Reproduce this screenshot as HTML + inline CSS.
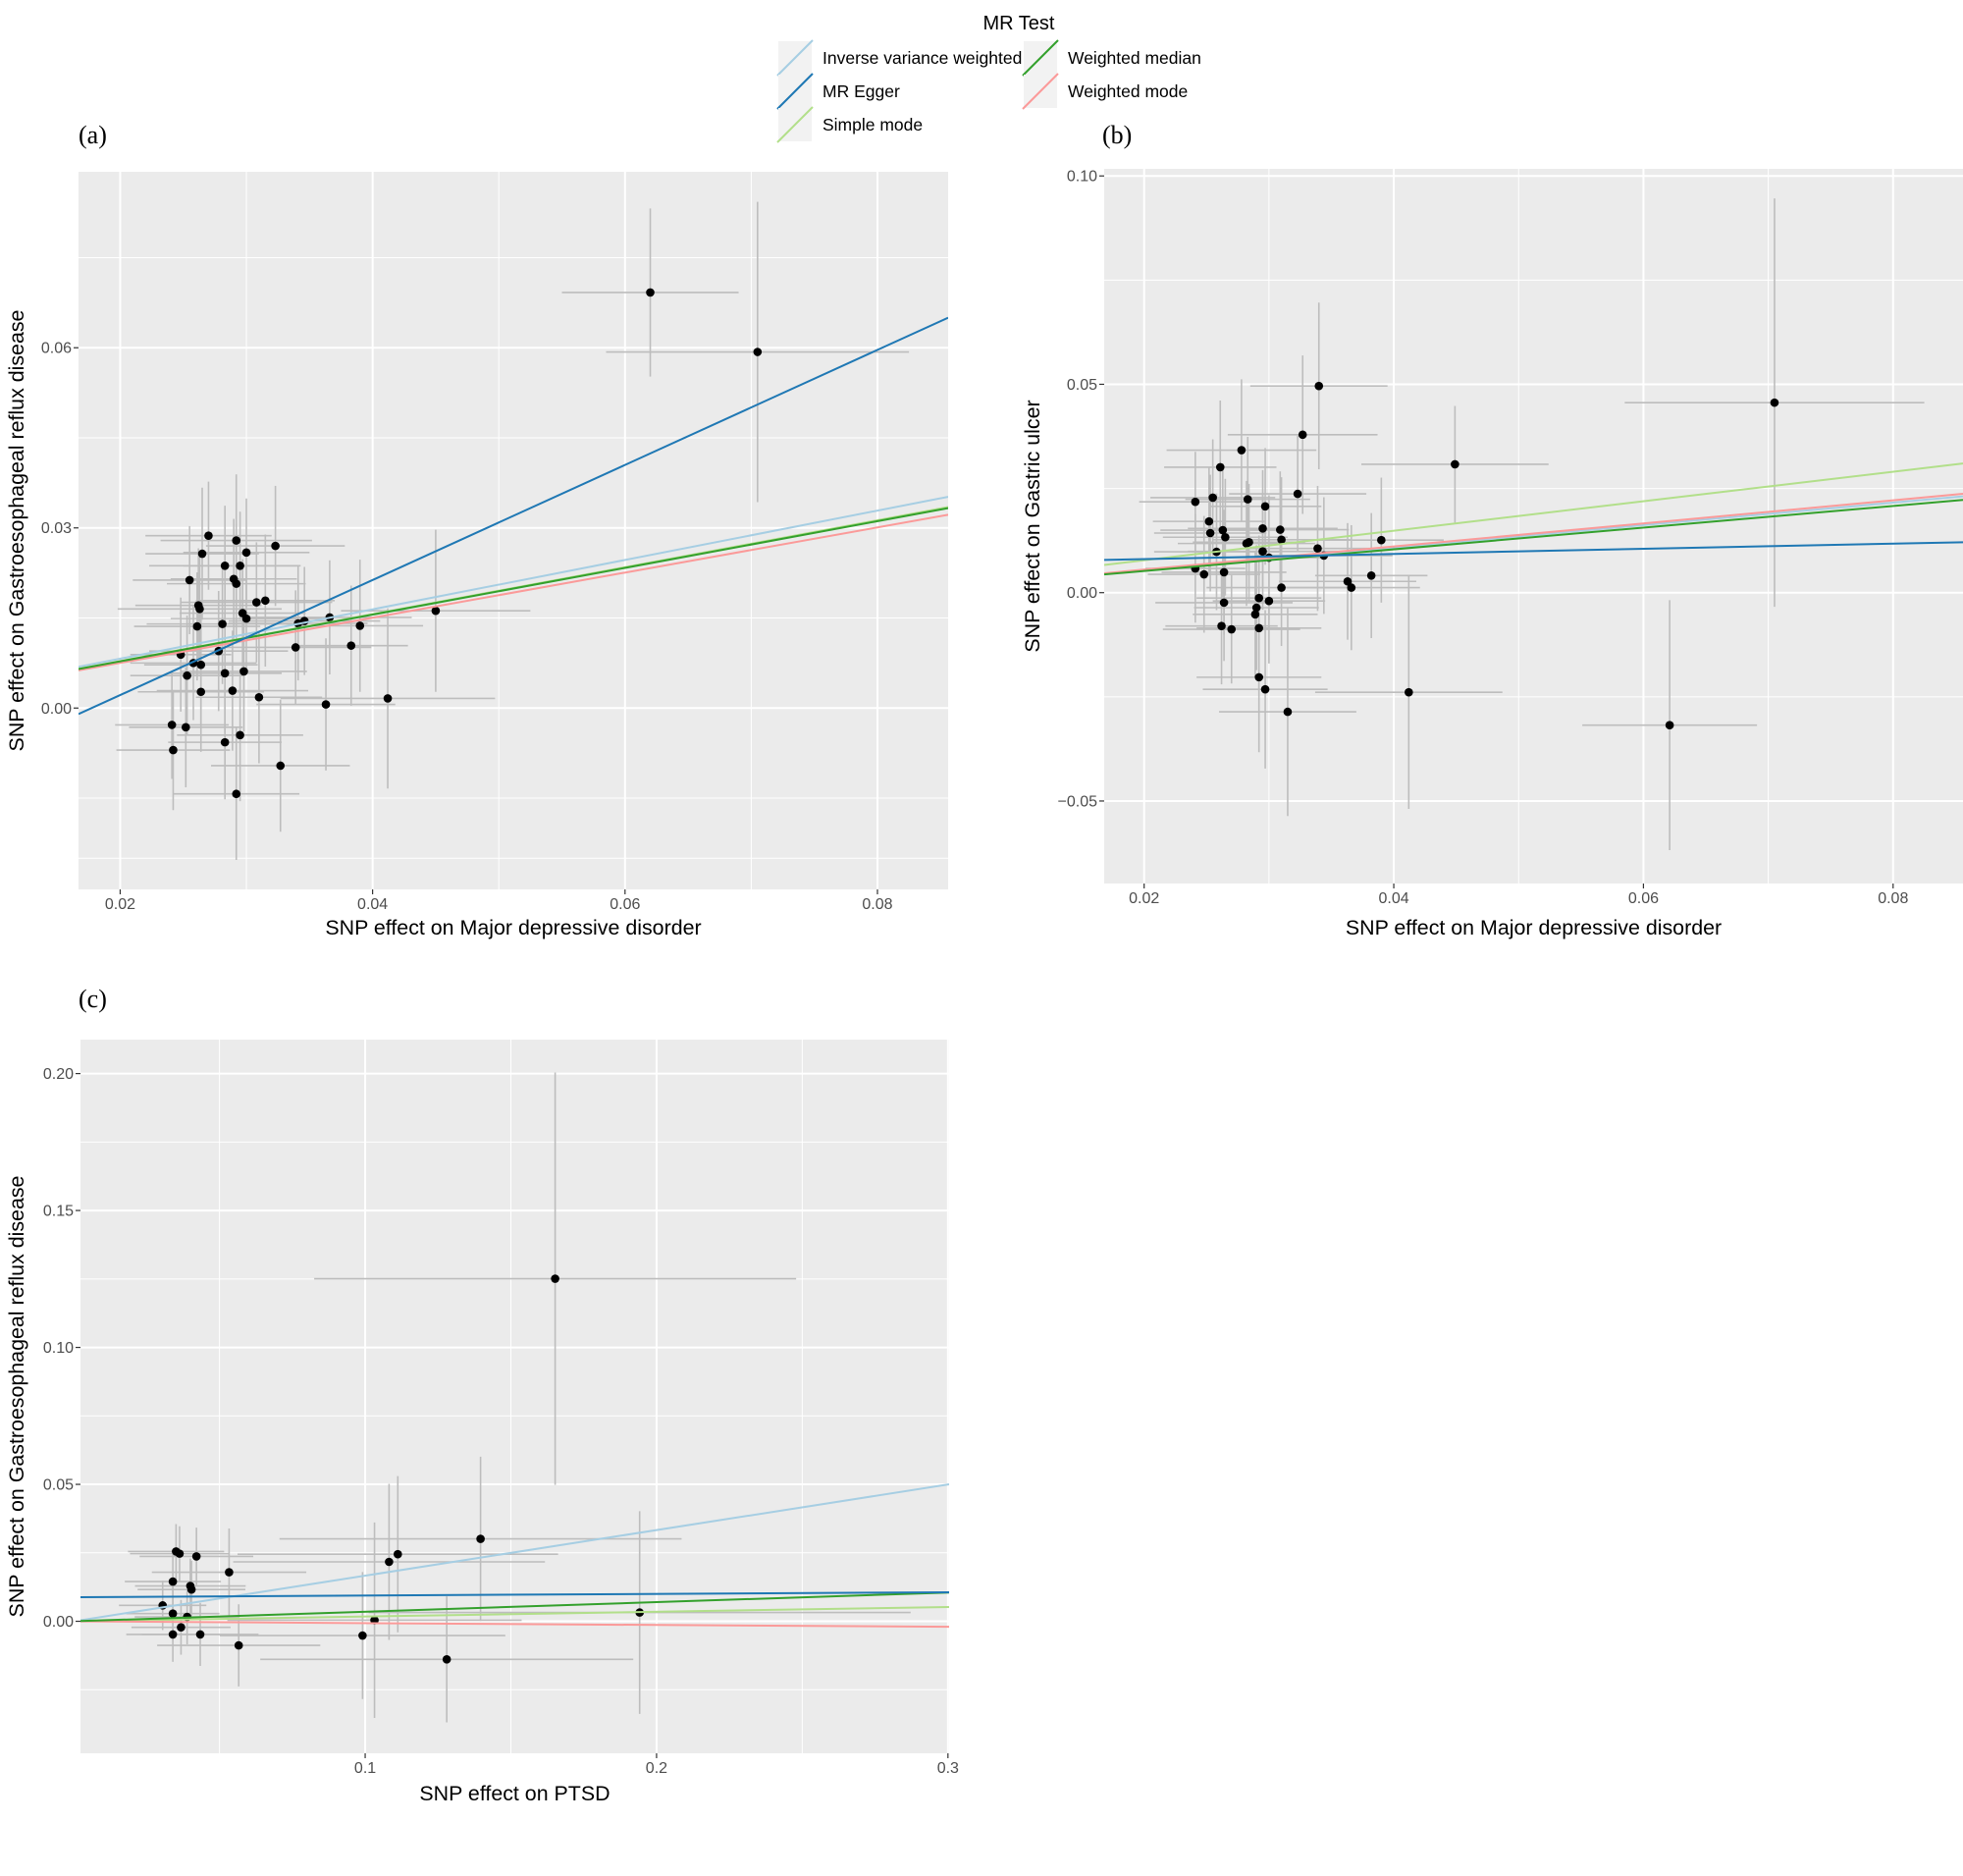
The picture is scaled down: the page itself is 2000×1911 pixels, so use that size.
<!DOCTYPE html>
<html><head><meta charset="utf-8"><style>
html,body{margin:0;padding:0;background:#fff;}
svg{display:block;font-family:"Liberation Sans",sans-serif;}
</style></head><body>
<svg id="fig" width="2000" height="1911" viewBox="0 0 2000 1911" xmlns="http://www.w3.org/2000/svg">
<g id="legend">
<text x="1038" y="30" font-size="20" text-anchor="middle" fill="#000">MR Test</text>
</g>
<g id="panels"></g>
</svg>
<script>
// ---- Panel (a) data: MDD -> GERD ----
const aX = [0.0620,0.0705,0.0270,0.0292,0.0323,0.0265,0.0300,0.0283,0.0295,0.0255,0.0290,0.0292,0.0308,0.0315,0.0262,0.0263,0.0297,0.0300,0.0366,0.0346,0.0341,0.0450,0.0281,0.0261,0.0390,0.0339,0.0383,0.0278,0.0248,0.0258,0.0264,0.0283,0.0298,0.0253,0.0289,0.0264,0.0310,0.0412,0.0363,0.0241,0.0252,0.0295,0.0283,0.0242,0.0327,0.0292];
const aY = [0.0692,0.0593,0.0287,0.0279,0.0270,0.0257,0.0259,0.0237,0.0237,0.0213,0.0215,0.0207,0.0176,0.0179,0.0171,0.0165,0.0158,0.0149,0.0151,0.0145,0.0141,0.0162,0.0140,0.0136,0.0137,0.0101,0.0104,0.0095,0.0089,0.0075,0.0072,0.0058,0.0061,0.0054,0.0029,0.0027,0.0018,0.0016,0.0006,-0.0028,-0.0032,-0.0045,-0.0057,-0.0070,-0.0096,-0.0143];
const aXse = [0.0070,0.0120,0.0050,0.0060,0.0055,0.0045,0.0050,0.0060,0.0045,0.0045,0.0050,0.0055,0.0060,0.0055,0.0050,0.0065,0.0050,0.0060,0.0065,0.0060,0.0055,0.0075,0.0060,0.0050,0.0050,0.0060,0.0045,0.0055,0.0040,0.0050,0.0045,0.0045,0.0050,0.0045,0.0060,0.0050,0.0050,0.0085,0.0055,0.0045,0.0045,0.0050,0.0045,0.0045,0.0055,0.0050];
const aYse = [0.0140,0.0250,0.0090,0.0110,0.0100,0.0110,0.0090,0.0100,0.0090,0.0090,0.0100,0.0100,0.0100,0.0110,0.0095,0.0090,0.0090,0.0090,0.0095,0.0090,0.0095,0.0135,0.0100,0.0090,0.0110,0.0095,0.0100,0.0100,0.0095,0.0095,0.0100,0.0100,0.0100,0.0100,0.0100,0.0100,0.0110,0.0150,0.0110,0.0090,0.0100,0.0110,0.0095,0.0100,0.0110,0.0110];
const aSlopes = [0.411,0.958,0.391,0.389,0.376];
const aIntercepts = [0,-0.017,0,0,0];
const aXTicks = [0.02,0.04,0.06,0.08];
const aXTickLabels = ["0.02","0.04","0.06","0.08"];
const aYTicks = [0.00,0.03,0.06];
const aYTickLabels = ["0.00","0.03","0.06"];

// ---- Panel (b) data: MDD -> Gastric ulcer ----
const bX = [0.0705,0.0621,0.0340,0.0327,0.0278,0.0449,0.0261,0.0323,0.0255,0.0241,0.0283,0.0297,0.0252,0.0295,0.0309,0.0263,0.0253,0.0265,0.0310,0.0390,0.0282,0.0284,0.0339,0.0258,0.0295,0.0344,0.0300,0.0241,0.0248,0.0264,0.0382,0.0363,0.0366,0.0310,0.0292,0.0300,0.0264,0.0290,0.0289,0.0262,0.0292,0.0270,0.0292,0.0297,0.0412,0.0315];
const bY = [0.0456,-0.0318,0.0496,0.0379,0.0342,0.0308,0.0301,0.0237,0.0228,0.0218,0.0224,0.0207,0.0171,0.0154,0.0151,0.0150,0.0143,0.0133,0.0127,0.0126,0.0118,0.0121,0.0106,0.0098,0.0099,0.0089,0.0084,0.0058,0.0044,0.0049,0.0041,0.0027,0.0012,0.0012,-0.0013,-0.0020,-0.0024,-0.0036,-0.0052,-0.0080,-0.0085,-0.0088,-0.0203,-0.0232,-0.0239,-0.0286];
const bXse = [0.0120,0.0070,0.0055,0.0060,0.0060,0.0075,0.0045,0.0055,0.0050,0.0045,0.0050,0.0045,0.0045,0.0060,0.0055,0.0050,0.0045,0.0050,0.0055,0.0050,0.0055,0.0045,0.0060,0.0050,0.0060,0.0055,0.0045,0.0040,0.0045,0.0050,0.0045,0.0055,0.0055,0.0060,0.0050,0.0045,0.0055,0.0050,0.0050,0.0045,0.0050,0.0055,0.0050,0.0050,0.0075,0.0055];
const bYse = [0.0490,0.0300,0.0200,0.0190,0.0170,0.0140,0.0160,0.0140,0.0140,0.0120,0.0150,0.0140,0.0130,0.0140,0.0140,0.0160,0.0140,0.0140,0.0150,0.0150,0.0150,0.0140,0.0150,0.0140,0.0140,0.0140,0.0150,0.0130,0.0140,0.0150,0.0150,0.0140,0.0150,0.0140,0.0150,0.0150,0.0140,0.0150,0.0150,0.0140,0.0150,0.0130,0.0180,0.0190,0.0280,0.0250];
const bSlopes = [0.270,0.062,0.354,0.260,0.277];
const bIntercepts = [0,0.0068,0.0007,0,0];
const bXTicks = [0.02,0.04,0.06,0.08];
const bXTickLabels = ["0.02","0.04","0.06","0.08"];
const bYTicks = [-0.05,0.00,0.05,0.10];
const bYTickLabels = ["\u22120.05","0.00","0.05","0.10"];

// ---- Panel (c) data: PTSD -> GERD ----
const cX = [0.1652,0.1396,0.1112,0.1082,0.1942,0.1032,0.0991,0.1280,0.0351,0.0363,0.0421,0.0533,0.0340,0.0400,0.0404,0.0305,0.0340,0.0389,0.0368,0.0340,0.0434,0.0566];
const cY = [0.1251,0.0301,0.0245,0.0217,0.0032,0.0004,-0.0052,-0.0139,0.0255,0.0247,0.0237,0.0179,0.0145,0.0129,0.0116,0.0058,0.0028,0.0016,-0.0022,-0.0048,-0.0048,-0.0088];
const cXse = [0.0827,0.0690,0.0550,0.0535,0.0930,0.0505,0.0490,0.0640,0.0165,0.0170,0.0195,0.0265,0.0165,0.0190,0.0185,0.0150,0.0160,0.0180,0.0170,0.0160,0.0200,0.0280];
const cYse = [0.0753,0.0300,0.0285,0.0285,0.0370,0.0357,0.0232,0.0230,0.0100,0.0100,0.0105,0.0160,0.0110,0.0100,0.0105,0.0090,0.0100,0.0100,0.0100,0.0100,0.0115,0.0150];
const cSlopes = [0.1665,0.006,0.0174,0.035,-0.0067];
const cIntercepts = [0,0.0088,0,0,0];
const cXTicks = [0.1,0.2,0.3];
const cXTickLabels = ["0.1","0.2","0.3"];
const cYTicks = [0.00,0.05,0.10,0.15,0.20];
const cYTickLabels = ["0.00","0.05","0.10","0.15","0.20"];

const methodNames = ["Inverse variance weighted","MR Egger","Simple mode","Weighted median","Weighted mode"];
const methodColors = ["#a6cee3","#1f78b4","#b2df8a","#33a02c","#fb9a99"];

const NS = "http://www.w3.org/2000/svg";
function mk(tag, attrs, parent){
  const e = document.createElementNS(NS, tag);
  for (const k in attrs) e.setAttribute(k, attrs[k]);
  if (parent) parent.appendChild(e);
  return e;
}

(function(){
  const lg = document.getElementById('legend');
  const pos = [[793,42,838],[793,76,838],[793,110,838],[1043,42,1088],[1043,76,1088]];
  [0,1,2,3,4].forEach((m,i)=>{
    const p = pos[i];
    const g = mk('g',{},lg);
    
    
    mk('rect',{x:p[0],y:p[1],width:34,height:34,fill:'#f2f2f2'},g);
    mk('line',{x1:p[0]-1,y1:p[1]+35,x2:p[0]+35,y2:p[1]-1,stroke:methodColors[m],'stroke-width':2},g);
    const t = mk('text',{x:p[2],y:p[1]+23,'font-size':17.5,fill:'#000'},g);
    t.textContent = methodNames[m];
  });
})();

function panel(cfg){
  const root = document.getElementById('panels');
  const g = mk('g',{},root);
  
  
  const L=cfg.px[0], R=cfg.px[1], T=cfg.px[2], B=cfg.px[3];
  const sx = v => L + (v-cfg.xr[0])/(cfg.xr[1]-cfg.xr[0])*(R-L);
  const sy = v => B - (v-cfg.yr[0])/(cfg.yr[1]-cfg.yr[0])*(B-T);
  const bg = mk('rect',{x:L,y:T,width:R-L,height:B-T,fill:'#ebebeb'},g);
  
  
  const clipId = cfg.name + '-clip';
  const cp = mk('clipPath',{id:clipId},g);
  mk('rect',{x:L,y:T,width:R-L,height:B-T},cp);
  const inner = mk('g',{'clip-path':'url(#'+clipId+')'},g);
  cfg.xMinor.forEach(v=>mk('line',{x1:sx(v),x2:sx(v),y1:T,y2:B,stroke:'#fff','stroke-width':1},inner));
  cfg.yMinor.forEach(v=>mk('line',{y1:sy(v),y2:sy(v),x1:L,x2:R,stroke:'#fff','stroke-width':1},inner));
  cfg.xTicks.forEach(v=>mk('line',{x1:sx(v),x2:sx(v),y1:T,y2:B,stroke:'#fff','stroke-width':2},inner));
  cfg.yTicks.forEach(v=>mk('line',{y1:sy(v),y2:sy(v),x1:L,x2:R,stroke:'#fff','stroke-width':2},inner));
  const eb = mk('g',{stroke:'#bdbdbd','stroke-width':1.6},inner);
  
  
  cfg.x.forEach((xv,i)=>{
    const yv = cfg.y[i];
    mk('line',{x1:sx(xv-cfg.xse[i]),x2:sx(xv+cfg.xse[i]),y1:sy(yv),y2:sy(yv)},eb);
    mk('line',{x1:sx(xv),x2:sx(xv),y1:sy(yv-cfg.yse[i]),y2:sy(yv+cfg.yse[i])},eb);
  });
  cfg.x.forEach((xv,i)=>{
    const c = mk('circle',{cx:sx(xv),cy:sy(cfg.y[i]),r:4.3,fill:'#000'},inner);
    
    
  });
  [0,2,4,3,1].forEach(m=>{
    const x0=cfg.xr[0], x1=cfg.xr[1];
    const l = mk('line',{x1:sx(x0),y1:sy(cfg.ic[m]+cfg.sl[m]*x0),x2:sx(x1),y2:sy(cfg.ic[m]+cfg.sl[m]*x1),stroke:methodColors[m],'stroke-width':2},inner);
    
    
  });
  cfg.xTicks.forEach((v,i)=>{
    mk('line',{x1:sx(v),x2:sx(v),y1:B,y2:B+5,stroke:'#333','stroke-width':1.2},g);
    const t = mk('text',{x:sx(v),y:B+20,'font-size':16,'text-anchor':'middle',fill:'#4d4d4d'},g);
    t.textContent = cfg.xLabels[i];
    
    
  });
  cfg.yTicks.forEach((v,i)=>{
    mk('line',{x1:L-5,x2:L,y1:sy(v),y2:sy(v),stroke:'#333','stroke-width':1.2},g);
    const t = mk('text',{x:L-7,y:sy(v)+5.5,'font-size':16,'text-anchor':'end',fill:'#4d4d4d'},g);
    t.textContent = cfg.yLabels[i];
    
    
  });
  const xt = mk('text',{x:(L+R)/2,y:cfg.xtY,'font-size':21.4,'text-anchor':'middle',fill:'#000'},g);
  xt.textContent = cfg.xTitle;
  
  
  const yc=(T+B)/2;
  const yt = mk('text',{x:cfg.ytX,y:yc,'font-size':21.4,'text-anchor':'middle',fill:'#000',transform:'rotate(-90 '+cfg.ytX+' '+yc+')'},g);
  yt.textContent = cfg.yTitle;
  
  
  const pl = mk('text',{x:cfg.lab[0],y:cfg.lab[1],'font-size':26,fill:'#000','font-family':'"Liberation Serif",serif'},g);
  pl.textContent = cfg.label;
  
  
}

panel({name:'panel-a',px:[80,966,175,906],xr:[0.0167,0.0856],yr:[-0.0302,0.0893],
  x:aX,y:aY,xse:aXse,yse:aYse,sl:aSlopes,ic:aIntercepts,
  xTicks:aXTicks,xLabels:aXTickLabels,yTicks:aYTicks,yLabels:aYTickLabels,
  xMinor:[0.03,0.05,0.07],yMinor:[-0.025,-0.015,0.015,0.045,0.075],
  xTitle:'SNP effect on Major depressive disorder',yTitle:'SNP effect on Gastroesophageal reflux disease',
  xtY:952,ytX:24,label:'(a)',lab:[80,146]});
panel({name:'panel-b',px:[1125,2000,172,900],xr:[0.0168,0.0856],yr:[-0.0698,0.1017],
  x:bX,y:bY,xse:bXse,yse:bYse,sl:bSlopes,ic:bIntercepts,
  xTicks:bXTicks,xLabels:bXTickLabels,yTicks:bYTicks,yLabels:bYTickLabels,
  xMinor:[0.03,0.05,0.07],yMinor:[-0.025,0.025,0.075],
  xTitle:'SNP effect on Major depressive disorder',yTitle:'SNP effect on Gastric ulcer',
  xtY:952,ytX:1059,label:'(b)',lab:[1123,146]});
panel({name:'panel-c',px:[82,967,1059,1786],xr:[0.0023,0.3004],yr:[-0.0482,0.2124],
  x:cX,y:cY,xse:cXse,yse:cYse,sl:cSlopes,ic:cIntercepts,
  xTicks:cXTicks,xLabels:cXTickLabels,yTicks:cYTicks,yLabels:cYTickLabels,
  xMinor:[0.05,0.15,0.25],yMinor:[-0.025,0.025,0.075,0.125,0.175],
  xTitle:'SNP effect on PTSD',yTitle:'SNP effect on Gastroesophageal reflux disease',
  xtY:1834,ytX:24,label:'(c)',lab:[80,1026]});
</script>
</body></html>
